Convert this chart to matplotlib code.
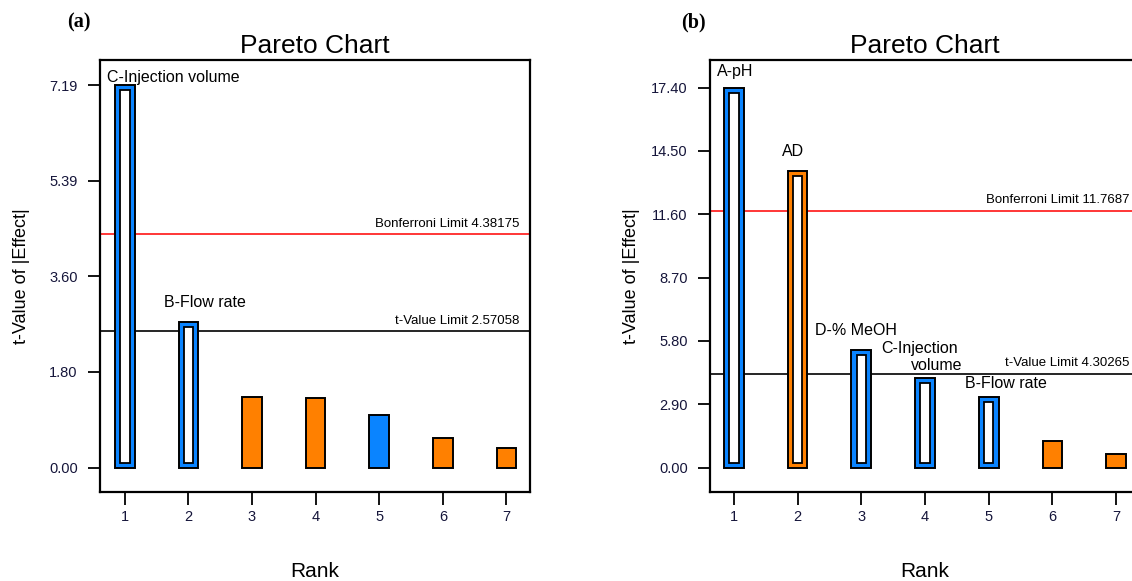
import numpy as np
import matplotlib.pyplot as plt

plt.rcParams['font.family'] = ['Liberation Sans', 'DejaVu Sans']

# ---------------------------------------------------------
# Data
# ---------------------------------------------------------
rank = [1, 2, 3, 4, 5, 6, 7]

tval_a = [7.19, 2.73, 1.33, 1.30, 0.99, 0.55, 0.36]
sign_a = ['pos', 'pos', 'neg', 'neg', 'pos', 'neg', 'neg']
hollow_a = [True, True, False, False, False, False, False]
yticks_a = [0.00, 1.80, 3.60, 5.39, 7.19]
bonf_a = 4.38175
tlim_a = 2.57058

tval_b = [17.40, 13.58, 5.37, 4.09, 3.24, 1.21, 0.61]
sign_b = ['pos', 'neg', 'pos', 'pos', 'pos', 'neg', 'neg']
hollow_b = [True, True, True, True, True, False, False]
yticks_b = [0.00, 2.90, 5.80, 8.70, 11.60, 14.50, 17.40]
bonf_b = 11.7687
tlim_b = 4.30265

BLUE = '#0A84FF'
ORANGE = '#FF8000'
colors = {'pos': BLUE, 'neg': ORANGE}

W, H = 1132, 581
fig = plt.figure(figsize=(W / 100, H / 100), dpi=100)


def px_axes(x0, x1, y0, y1):
    return fig.add_axes([x0 / W, 1 - y1 / H, (x1 - x0) / W, (y1 - y0) / H])


def pareto(ax, vals, signs, hollow, yticks, bonf, tlim, ylim, xlim, inset):
    bw = 0.31
    for r, v, s, h in zip(rank, vals, signs, hollow):
        ax.bar(r, v, width=bw, color=colors[s], edgecolor='black', linewidth=1.4, zorder=3)
        if h:
            ax.bar(r, v - 2 * inset, bottom=inset, width=bw * 0.48, color='white',
                   edgecolor='black', linewidth=1.3, zorder=4)
    ax.axhline(bonf, color='red', lw=1.1, zorder=2)
    ax.axhline(tlim, color='black', lw=1.2, zorder=2)
    xr = xlim[1] - 0.17
    for val, lab in [(bonf, 'Bonferroni Limit %g' % bonf), (tlim, 't-Value Limit %g' % tlim)]:
        ax.annotate(lab, xy=(xr, val), xytext=(0, 3), textcoords='offset points',
                    ha='right', va='bottom', fontsize=9.5)
    ax.set_xlim(*xlim)
    ax.set_ylim(*ylim)
    ax.set_xticks(rank)
    ax.set_yticks(yticks)
    ax.set_yticklabels(['%.2f' % t for t in yticks])
    ax.tick_params(axis='both', direction='out', length=9, width=1.3, labelsize=10.5,
                   labelcolor='#15153a')
    ax.tick_params(axis='y', pad=7)
    ax.tick_params(axis='x', pad=4)
    for sp in ax.spines.values():
        sp.set_linewidth(1.6)
    ax.set_title('Pareto Chart', fontsize=19, pad=5)
    ax.set_ylabel('t-Value of |Effect|', fontsize=13)
    ax.yaxis.set_label_coords(-0.163, 0.5)
    ax.set_xlabel('Rank', fontsize=15, va='top')
    ax.xaxis.set_label_coords(0.5, -0.163)


# ---- (a)
ax1 = px_axes(100, 530, 60, 492)
pareto(ax1, tval_a, sign_a, hollow_a, yticks_a, bonf_a, tlim_a,
       (-0.46, 7.66), (0.61, 7.37), 0.094)
ax1.text(0.717, 7.34, 'C-Injection volume', fontsize=11.5, va='center')
ax1.text(1.61, 3.10, 'B-Flow rate', fontsize=11.5, va='center')
fig.text(67 / W, 1 - 22 / H, '(a)', fontsize=14.5, fontweight='bold',
         family='Liberation Serif', va='center')

# ---- (b)
ax2 = px_axes(710, 1140, 60, 492)
pareto(ax2, tval_b, sign_b, hollow_b, yticks_b, bonf_b, tlim_b,
       (-1.12, 18.66), (0.625, 7.375), 0.23)
ax2.text(0.73, 18.12, 'A-pH', fontsize=11.5, va='center')
ax2.text(1.75, 14.46, 'AD', fontsize=11.5, va='center')
ax2.text(2.27, 6.27, 'D-% MeOH', fontsize=11.5, va='center')
ax2.text(3.31, 5.47, 'C-Injection', fontsize=11.5, va='center')
ax2.text(3.78, 4.66, 'volume', fontsize=11.5, va='center')
ax2.text(4.63, 3.83, 'B-Flow rate', fontsize=11.5, va='center')
fig.text(681 / W, 1 - 22 / H, '(b)', fontsize=14.5, fontweight='bold',
         family='Liberation Serif', va='center')

fig.savefig('out.png', dpi=100)
